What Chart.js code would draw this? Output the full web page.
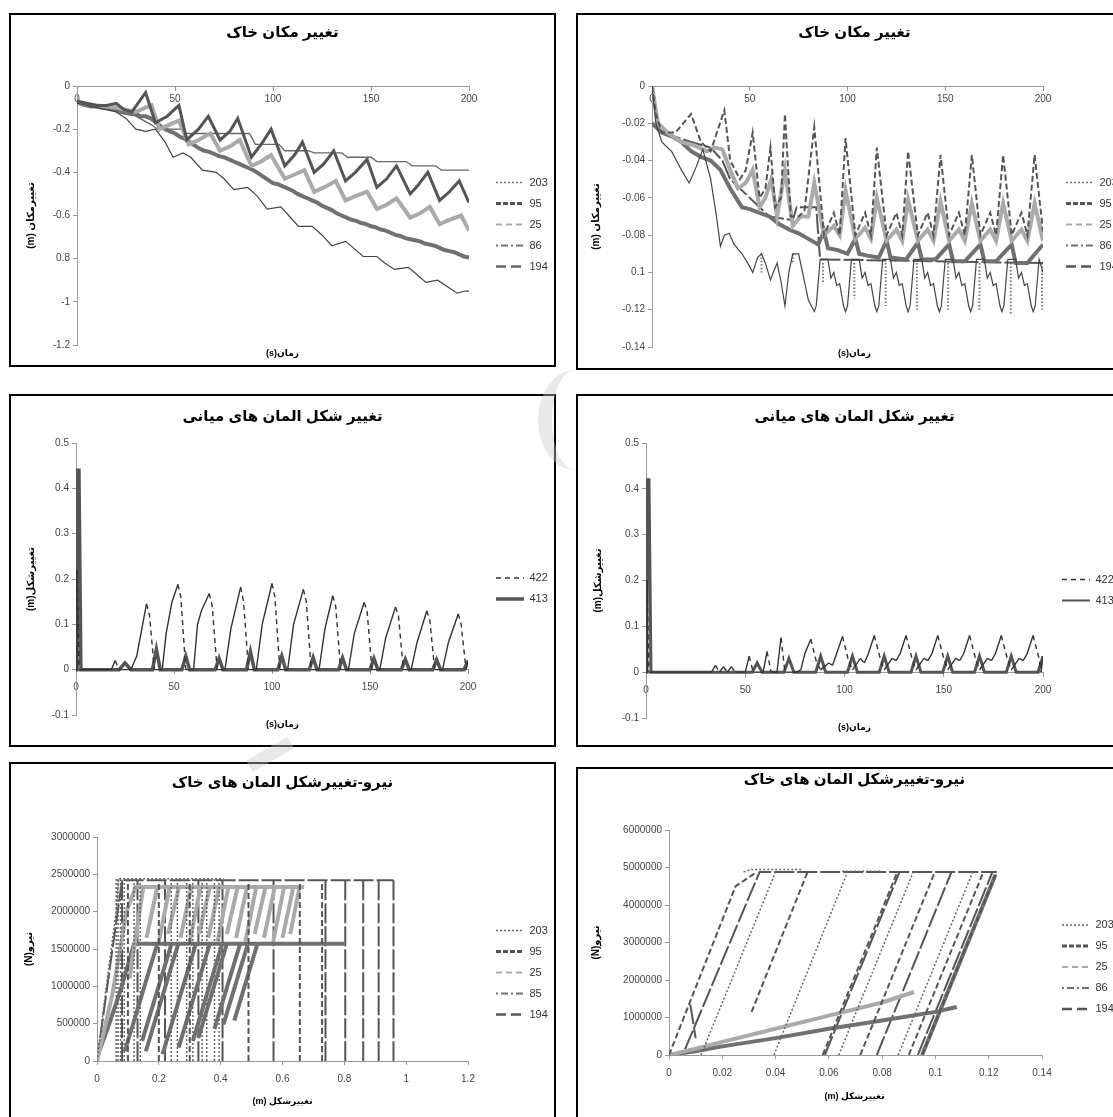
<!DOCTYPE html>
<html>
<head>
<meta charset="utf-8">
<script src="https://cdn.jsdelivr.net/npm/chart.js@4.4.1/dist/chart.umd.min.js"></script>
<style>
  body { margin: 0; background: #fff; width: 1113px; height: 1117px; overflow: hidden; position: relative; }
  .panel { position: absolute; border: 2px solid #000; background: #fff; }
  .panel canvas { display: block; }
  .wm { position: absolute; pointer-events: none; z-index: 5; }
</style>
</head>
<body>
<div class="panel" style="left:9px;top:13px;width:543px;height:350px"><canvas id="tl" width="543" height="350"></canvas></div>
<div class="panel" style="left:576px;top:13px;width:553px;height:353px"><canvas id="tr" width="553" height="353"></canvas></div>
<div class="panel" style="left:9px;top:394px;width:543px;height:349px"><canvas id="ml" width="543" height="349"></canvas></div>
<div class="panel" style="left:576px;top:394px;width:553px;height:349px"><canvas id="mr" width="553" height="349"></canvas></div>
<div class="panel" style="left:9px;top:762px;width:543px;height:361px"><canvas id="bl" width="543" height="361"></canvas></div>
<div class="panel" style="left:576px;top:767px;width:553px;height:356px"><canvas id="br" width="553" height="356"></canvas></div>
<!-- faint watermark pieces that show between the panels -->
<div class="wm" style="left:538px;top:370px;width:60px;height:100px;border-left:14px solid rgba(200,200,200,0.4);border-radius:50%"></div>
<div class="wm" style="left:246px;top:748px;width:48px;height:13px;background:rgba(200,200,200,0.4);transform:rotate(-30deg)"></div>

<script>
// TICK LABELS
const tlYTicks = ['-1.2', '-1', '0.8', '-0.6', '-0.4', '-0.2', '0'];
const trYTicks = ['-0.14', '-0.12', '0.1', '-0.08', '-0.06', '-0.04', '-0.02', '0'];
const midYTicks = ['-0.1', '0', '0.1', '0.2', '0.3', '0.4', '0.5'];
const timeTicks = ['0', '50', '100', '150', '200'];
const blYTicks = ['0', '500000', '1000000', '1500000', '2000000', '2500000', '3000000'];
const blXTicks = ['0', '0.2', '0.4', '0.6', '0.8', '1', '1.2'];
const brYTicks = ['0', '1000000', '2000000', '3000000', '4000000', '5000000', '6000000'];
const brXTicks = ['0', '0.02', '0.04', '0.06', '0.08', '0.1', '0.12', '0.14'];

// TOP LEFT  (time s, displacement m)
const tl203 = [[0,-0.08],[10,-0.1],[20,-0.12],[25,-0.15],[30,-0.2],[35,-0.21],[40,-0.2],[45,-0.26],[49,-0.33],[54,-0.31],[58,-0.33],[64,-0.39],[71,-0.4],[75,-0.43],[80,-0.48],[87,-0.47],[92,-0.51],[97,-0.57],[104,-0.56],[108,-0.6],[113,-0.65],[120,-0.65],[125,-0.69],[130,-0.74],[137,-0.72],[141,-0.75],[146,-0.79],[153,-0.79],[157,-0.82],[162,-0.85],[169,-0.84],[173,-0.87],[178,-0.91],[184,-0.9],[189,-0.93],[194,-0.96],[198,-0.95],[200,-0.95]];
const tl95 = [[0,-0.07],[5,-0.08],[10,-0.09],[15,-0.09],[20,-0.08],[24,-0.11],[28,-0.12],[35,-0.03],[40,-0.17],[46,-0.14],[52,-0.09],[56,-0.25],[62,-0.2],[67,-0.14],[73,-0.25],[78,-0.21],[82,-0.15],[89,-0.33],[94,-0.27],[99,-0.2],[106,-0.37],[111,-0.32],[115,-0.26],[121,-0.4],[126,-0.36],[131,-0.3],[137,-0.44],[142,-0.4],[148,-0.34],[153,-0.47],[158,-0.43],[163,-0.37],[170,-0.5],[174,-0.46],[179,-0.4],[185,-0.53],[190,-0.49],[195,-0.44],[200,-0.54]];
const tl25 = [[0,-0.08],[10,-0.09],[20,-0.1],[30,-0.12],[35,-0.1],[38,-0.09],[42,-0.2],[47,-0.18],[52,-0.16],[57,-0.27],[62,-0.25],[68,-0.22],[73,-0.3],[78,-0.28],[83,-0.25],[89,-0.37],[94,-0.35],[99,-0.32],[106,-0.43],[111,-0.41],[116,-0.39],[121,-0.49],[126,-0.47],[132,-0.44],[137,-0.53],[142,-0.51],[148,-0.49],[153,-0.57],[158,-0.55],[163,-0.52],[170,-0.61],[175,-0.59],[180,-0.56],[185,-0.64],[190,-0.62],[196,-0.6],[200,-0.67]];
const tl86 = [[0,-0.07],[2.5,-0.085],[5,-0.09],[7.5,-0.095],[10,-0.095],[12.5,-0.1],[15,-0.1],[17.5,-0.105],[20,-0.11],[22.5,-0.12],[25,-0.125],[27.5,-0.13],[30,-0.13],[32.5,-0.14],[35,-0.14],[37.5,-0.15],[40,-0.165],[42.5,-0.185],[45,-0.2],[47.5,-0.21],[50,-0.22],[52.5,-0.235],[55,-0.245],[57.5,-0.26],[60,-0.275],[62.5,-0.29],[65,-0.3],[67.5,-0.305],[70,-0.315],[72.5,-0.325],[75,-0.33],[77.5,-0.34],[80,-0.35],[82.5,-0.36],[85,-0.37],[87.5,-0.38],[90,-0.39],[92.5,-0.405],[95,-0.42],[97.5,-0.435],[100,-0.45],[102.5,-0.455],[105,-0.465],[107.5,-0.475],[110,-0.485],[112.5,-0.5],[115,-0.51],[117.5,-0.52],[120,-0.53],[122.5,-0.54],[125,-0.555],[127.5,-0.565],[130,-0.575],[132.5,-0.59],[135,-0.6],[137.5,-0.61],[140,-0.62],[142.5,-0.625],[145,-0.635],[147.5,-0.64],[150,-0.65],[152.5,-0.655],[155,-0.665],[157.5,-0.67],[160,-0.68],[162.5,-0.69],[165,-0.695],[167.5,-0.705],[170,-0.71],[172.5,-0.715],[175,-0.72],[177.5,-0.73],[180,-0.735],[182.5,-0.74],[185,-0.75],[187.5,-0.76],[190,-0.765],[192.5,-0.77],[195,-0.78],[197.5,-0.79],[200,-0.795]];
const tl194 = [[0,-0.08],[10,-0.09],[20,-0.11],[30,-0.14],[38,-0.18],[41,-0.2],[53,-0.2],[56,-0.22],[88,-0.22],[91,-0.27],[103,-0.27],[106,-0.3],[118,-0.3],[121,-0.31],[135,-0.31],[138,-0.33],[150,-0.33],[153,-0.35],[168,-0.35],[171,-0.37],[183,-0.37],[186,-0.39],[200,-0.39]];

// TOP RIGHT
const tr203 = [[0,0],[2,-0.02],[5,-0.03],[10,-0.035],[15,-0.045],[19,-0.052],[22,-0.045],[26,-0.034],[30,-0.05],[33,-0.07],[35,-0.086],[37,-0.08],[39.5,-0.079],[42,-0.085],[46,-0.09],[49,-0.095],[51.5,-0.1],[54,-0.092],[56,-0.09],[58,-0.095],[60.6,-0.104],[62,-0.1],[64,-0.095],[66,-0.105],[68,-0.118],[70,-0.1],[72,-0.09],[75,-0.09],[77,-0.1],[80,-0.115],
  [83,-0.121],[84,-0.118],[86,-0.093],[90,-0.093],[91.5,-0.103],[93,-0.1],[94.5,-0.107],[96,-0.106],[98,-0.118],
  [99,-0.121],[100,-0.118],[102,-0.093],[106,-0.093],[107.5,-0.103],[109,-0.1],[110.5,-0.107],[112,-0.106],[114,-0.118],
  [115,-0.121],[116,-0.118],[118,-0.093],[122,-0.093],[123.5,-0.103],[125,-0.1],[126.5,-0.107],[128,-0.106],[130,-0.118],
  [131,-0.121],[132,-0.118],[134,-0.093],[138,-0.093],[139.5,-0.103],[141,-0.1],[142.5,-0.107],[144,-0.106],[146,-0.118],
  [147,-0.121],[148,-0.118],[150,-0.093],[154,-0.093],[155.5,-0.103],[157,-0.1],[158.5,-0.107],[160,-0.106],[162,-0.118],
  [163,-0.121],[164,-0.118],[166,-0.093],[170,-0.093],[171.5,-0.103],[173,-0.1],[174.5,-0.107],[176,-0.106],[178,-0.118],
  [179,-0.121],[180,-0.118],[182,-0.093],[186,-0.093],[187.5,-0.103],[189,-0.1],[190.5,-0.107],[192,-0.106],[194,-0.118],
  [195,-0.121],[196,-0.118],[198,-0.093],[200,-0.1]];
const tr203dots = [[56,-0.09],[56,-0.1],null,[72,-0.09],[72,-0.095],null,[87.5,-0.095],[87.5,-0.106],null,[103.5,-0.095],[103.5,-0.114],null,[119.5,-0.095],[119.5,-0.118],null,[135.5,-0.095],[135.5,-0.12],null,[151.5,-0.095],[151.5,-0.12],null,[167.5,-0.095],[167.5,-0.12],null,[183.5,-0.095],[183.5,-0.122],null,[199.5,-0.095],[199.5,-0.12]];
const tr95 = [[0,0],[2,-0.015],[5,-0.025],[12,-0.025],[20,-0.015],[25,-0.03],[30,-0.035],[37,-0.013],[40,-0.04],[45,-0.05],[48,-0.045],[51.5,-0.025],[55,-0.06],[58,-0.055],[60.6,-0.033],[63,-0.065],[66,-0.06],[68,-0.015],[71,-0.07],[75,-0.07],[78,-0.067],[83,-0.022],[88,-0.08],[93,-0.068],[96,-0.08],[99,-0.028],[104,-0.08],[109,-0.068],[112,-0.08],[115,-0.033],[120,-0.08],[125,-0.068],[128,-0.08],[131,-0.035],[136,-0.08],[141,-0.068],[144,-0.08],[147.6,-0.037],[152,-0.08],[157,-0.068],[160,-0.08],[163.6,-0.037],[168,-0.08],[173,-0.068],[176,-0.08],[179.6,-0.037],[184,-0.08],[189,-0.068],[192,-0.08],[195.7,-0.037],[200,-0.078]];
const tr25 = [[0,0],[3,-0.02],[8,-0.025],[15,-0.03],[22,-0.032],[28,-0.035],[32,-0.033],[36,-0.034],[40,-0.045],[44,-0.055],[48,-0.052],[51.5,-0.045],[55,-0.065],[58,-0.06],[61,-0.05],[64,-0.07],[68,-0.045],[72,-0.075],[76,-0.07],[80,-0.07],[83,-0.052],[88,-0.08],[93,-0.075],[96,-0.08],[99,-0.056],[104,-0.082],[109,-0.076],[112,-0.082],[115,-0.06],[120,-0.083],[125,-0.077],[128,-0.083],[131,-0.061],[136,-0.083],[141,-0.077],[144,-0.083],[147.6,-0.062],[152,-0.083],[157,-0.077],[160,-0.083],[163.6,-0.063],[168,-0.083],[173,-0.077],[176,-0.083],[179.6,-0.063],[184,-0.083],[189,-0.077],[192,-0.083],[195.7,-0.063],[200,-0.083]];
const tr86 = [[0,-0.02],[5,-0.025],[10,-0.027],[15,-0.03],[20,-0.035],[25,-0.038],[30,-0.04],[35,-0.045],[40,-0.055],[43,-0.06],[46,-0.065],[50,-0.066],[55,-0.068],[60,-0.07],[65,-0.074],[70,-0.077],[75,-0.079],[80,-0.082],[85,-0.085],[88,-0.078],[90,-0.087],[95,-0.088],[100,-0.09],[104,-0.082],[106,-0.09],[110,-0.091],[116,-0.092],[120,-0.083],[122,-0.092],[130,-0.093],[136,-0.084],[138,-0.093],[145,-0.093],[152,-0.085],[154,-0.094],[160,-0.094],[168,-0.085],[170,-0.094],[176,-0.094],[184,-0.085],[186,-0.095],[192,-0.095],[200,-0.085]];
const tr194 = [[0,0],[3,-0.02],[8,-0.026],[20,-0.03],[30,-0.033],[36,-0.04],[40,-0.05],[50,-0.06],[60,-0.07],[72,-0.072],[74,-0.065],[84,-0.065],[86,-0.093],[200,-0.095]];

// MIDDLE LEFT
const ml422 = [[0,0],[0.5,0.22],[1.5,0],[18,0],[20,0.02],[22,0],[28,0],[31,0.03],[34,0.1],[36,0.145],[37.5,0.12],[40,0],[44,0],[46,0.08],[49,0.15],[52,0.188],[53.5,0.16],[56,0],[60,0],[62,0.1],[64,0.13],[68,0.168],[69.5,0.14],[72,0],[76,0],[79,0.09],[84,0.182],[85.5,0.15],[88,0],[92,0],[95,0.1],[100,0.19],[101.5,0.16],[104,0],[108,0],[111,0.1],[116,0.177],[117.5,0.15],[120,0],[124,0],[127,0.09],[131,0.163],[132.5,0.14],[135,0],[139,0],[142,0.08],[147,0.148],[148.5,0.13],[151,0],[155,0],[158,0.07],[163,0.138],[164.5,0.12],[167,0],[171,0],[174,0.06],[179,0.13],[180.5,0.11],[183,0],[187,0],[190,0.06],[195,0.123],[196.5,0.1],[199,0],[200,0.02]];
const ml413 = [[0,0],[0.5,0.44],[1.5,0.44],[2.5,0],[22,0],[25,0.015],[28,0],[39,0],[41,0.045],[43,0],[54,0],[56,0.03],[58,0],[71,0],[73,0.025],[75,0],[87,0],[89,0.04],[91,0],[103,0],[105,0.03],[107,0],[119,0],[121,0.027],[123,0],[134,0],[136,0.026],[138,0],[150,0],[152,0.025],[154,0],[166,0],[168,0.023],[170,0],[182,0],[184,0.022],[186,0],[198,0],[200,0.02]];

// MIDDLE RIGHT
const mr422 = [[0,0],[0.5,0.2],[1.5,0],[33,0],[35,0.015],[37,0],[39,0.012],[41,0],[43,0.012],[45,0],[50,0],[52,0.035],[54,0],[59,0],[61,0.045],[63,0],[66,0],[68,0.075],[70,0],[76,0],[78,0.005],[80,0.04],[83,0.072],[86,0.02],[88,0.005],[92,0.02],[94,0.015],[96,0.04],[99,0.078],[102,0.025],[104,0.005],[108,0.03],[110,0.02],[112,0.04],[115,0.08],[118,0.03],[120,0.005],[124,0.03],[126,0.025],[128,0.04],[131,0.08],[134,0.03],[136,0.005],[140,0.03],[142,0.025],[144,0.04],[147,0.08],[150,0.03],[152,0.005],[156,0.03],[158,0.025],[160,0.04],[163,0.08],[166,0.03],[168,0.005],[172,0.03],[174,0.025],[176,0.04],[179,0.08],[182,0.03],[184,0.005],[188,0.03],[190,0.025],[192,0.04],[195,0.08],[198,0.03],[199,0],[200,0.035]];
const mr413 = [[0,0],[0.5,0.42],[1.5,0.42],[2.5,0],[53.5,0],[56,0.02],[58.5,0],[69.5,0],[72,0.03],[74.5,0],[85.5,0],[88,0.035],[90.5,0],[101.5,0],[104,0.035],[106.5,0],[117.5,0],[120,0.035],[122.5,0],[133.5,0],[136,0.035],[138.5,0],[149.5,0],[152,0.035],[154.5,0],[165.5,0],[168,0.035],[170.5,0],[181.5,0],[184,0.035],[186.5,0],[197.5,0],[200,0.035]];

// BOTTOM LEFT (deformation m, force N), null = break in the line
const bl203 = [[0,0],[0.03,1000000],[0.062,2000000],[0.07,2440000],[0.41,2440000],null,[0.062,0],[0.062,2440000],null,[0.068,0],[0.068,2440000],null,[0.076,0],[0.076,2440000],null,[0.088,0],[0.088,2440000],null,[0.12,0],[0.12,2440000],null,[0.14,0],[0.14,2440000],null,[0.24,0],[0.24,2440000],null,[0.26,0],[0.26,2440000],null,[0.29,0],[0.29,2440000],null,[0.31,0],[0.31,2440000],null,[0.34,0],[0.34,2440000],null,[0.355,0],[0.355,2440000],null,[0.38,0],[0.38,2440000],null,[0.395,0],[0.395,2440000]];
const bl95 = [[0.1,0],[0.1,2420000],null,[0.2,0],[0.2,2420000],null,[0.3,0],[0.3,2420000],null,[0.49,0],[0.49,2420000],null,[0.656,0],[0.656,2420000],null,[0.728,0],[0.728,2420000]];
const bl25 = [[0,0],[0.02,350000],[0.05,900000],[0.075,1500000],[0.095,2000000],[0.125,2330000],[0.67,2330000],null,[0.105,1100000],[0.13,1800000],[0.15,2330000],null,[0.16,1650000],[0.195,2330000],null,[0.2,1600000],[0.235,2330000],null,[0.23,1700000],[0.265,2330000],null,[0.27,1650000],[0.305,2330000],null,[0.3,1600000],[0.335,2330000],null,[0.33,1700000],[0.365,2330000],null,[0.36,1650000],[0.395,2330000],null,[0.39,1600000],[0.425,2330000],null,[0.42,1700000],[0.455,2330000],null,[0.45,1650000],[0.485,2330000],null,[0.48,1600000],[0.515,2330000],null,[0.51,1700000],[0.545,2330000],null,[0.54,1650000],[0.575,2330000],null,[0.57,1600000],[0.605,2330000],null,[0.6,1650000],[0.635,2330000],null,[0.625,1700000],[0.655,2330000]];
const bl86 = [[0,50000],[0.04,500000],[0.08,1000000],[0.12,1570000],[0.8,1570000],null,[0.09,130000],[0.195,1570000],null,[0.146,270000],[0.241,1570000],null,[0.158,130000],[0.263,1570000],null,[0.212,90000],[0.32,1570000],null,[0.264,180000],[0.365,1570000],null,[0.31,270000],[0.405,1570000],null,[0.328,310000],[0.42,1570000],null,[0.38,430000],[0.463,1570000],null,[0.409,490000],[0.488,1570000],null,[0.444,540000],[0.519,1570000]];
const bl194 = [[0,0],[0.04,1200000],[0.081,2420000],[0.959,2420000],null,[0.081,2420000],[0.081,0],null,[0.131,2420000],[0.131,0],null,[0.22,2420000],[0.22,0],null,[0.328,2420000],[0.328,0],null,[0.406,2420000],[0.406,0],null,[0.571,2420000],[0.571,0],null,[0.739,2420000],[0.739,0],null,[0.803,2420000],[0.803,0],null,[0.861,2420000],[0.861,0],null,[0.911,2420000],[0.911,0],null,[0.959,2420000],[0.959,0]];

// BOTTOM RIGHT
const br203 = [[0.012,0],[0.04,4880000],null,[0.0394,0],[0.067,4880000],null,[0.0637,0],[0.0917,4880000],null,[0.086,0],[0.114,4880000],null,[0.028,4880000],[0.031,4950000],[0.05,4950000],null,[0.065,4900000],[0.08,4900000]];
const br95 = [[0,0],[0.025,4500000],[0.033,4880000],null,[0.031,1150000],[0.052,4880000],null,[0.0577,0],[0.0857,4880000],null,[0.0718,0],[0.0998,4880000],null,[0.09,0],[0.118,4880000],null,[0.095,0],[0.123,4880000]];
const br25 = [[0,0],[0.01,170000],[0.02,350000],[0.04,700000],[0.06,1050000],[0.08,1400000],[0.092,1680000]];
const br86 = [[0,0],[0.01,100000],[0.02,230000],[0.04,450000],[0.06,700000],[0.08,920000],[0.1,1150000],[0.108,1280000],null,[0.095,0],[0.1225,4800000]];
const br194 = [[0.006,150000],[0.034,4880000],[0.123,4880000],null,[0.0585,0],[0.0865,4880000],null,[0.078,0],[0.106,4880000],null,[0.0934,0],[0.1214,4880000],null,[0.008,1350000],[0.01,450000]];

const FONT = "'Liberation Sans', 'DejaVu Sans', sans-serif";

// line looks: chart line + what the legend shows
const look = {
  s203: {color: '#444', width: 1.2, dash: [], legendDash: [2, 2], legendColor: '#777', legendWidth: 1.5},
  s95: {color: '#555', width: 3, dash: [], legendDash: [5, 2], legendWidth: 3},
  s25: {color: '#aaa', width: 4, dash: [], legendDash: [6, 4], legendWidth: 2},
  s86: {color: '#707070', width: 4, dash: [], legendDash: [2, 3, 7, 3], legendWidth: 2},
  s194: {color: '#666', width: 1.3, dash: [], legendDash: [10, 5], legendWidth: 2.5},
  dots: {color: '#777', width: 2, dash: [1.5, 2]},
  d203: {color: '#666', width: 1.5, dash: [2, 2], legendDash: [2, 2]},
  d95: {color: '#555', width: 2, dash: [6, 3], legendDash: [5, 2], legendWidth: 3},
  d194: {color: '#555', width: 2, dash: [20, 3], legendDash: [10, 5], legendWidth: 2.5},
  m422: {color: '#333', width: 1.4, dash: [], dashDown: [5, 4], legendDash: [5, 4]},
  m413: {color: '#555', width: 3.5, dash: []},
  m413r: {color: '#555', width: 3, dash: [], legendWidth: 2}
};

function lineSet(label, pts, st) {
  const set = {
    label: label,
    data: pts.map((p, i) => p ? {x: p[0], y: p[1]} : {x: pts[i - 1][0], y: null}),
    borderColor: st.color,
    borderWidth: st.width,
    borderDash: st.dash,
    legendDash: st.legendDash || st.dash,
    legendColor: st.legendColor || st.color,
    legendWidth: st.legendWidth || st.width,
    pointRadius: 0,
    tension: 0,
    fill: false,
    spanGaps: false
  };
  // falling parts drawn dashed, rising parts solid
  if (st.dashDown) {
    set.segment = {borderDash: (ctx) => ctx.p1.parsed.y < ctx.p0.parsed.y ? st.dashDown : undefined};
  }
  return set;
}

// puts the legend where the original one sits
const placeLegend = {
  id: 'placeLegend',
  beforeLayout(chart, args, o) {
    const lg = chart.legend;
    if (lg && !lg.fitOrig) {
      lg.fitOrig = lg.fit;
      lg.fit = function () { this.fitOrig(); this.width = o.w; };
    }
  },
  afterLayout(chart, args, o) {
    const lg = chart.legend;
    const dx = o.x - lg.options.labels.padding - lg.left;
    const dy = o.cy - (lg.top + lg.bottom) / 2;
    lg.left += dx; lg.right += dx; lg.top += dy; lg.bottom += dy;
  }
};

function axisLabels(list, min, step) {
  return (v) => list[Math.round((v - min) / step)];
}

function makeChart(id, c) {
  const xAxis = {
    type: 'linear', min: c.xMin, max: c.xMax,
    position: c.xAtZero ? {y: 0} : 'bottom',
    ticks: {stepSize: c.xStep, autoSkip: false, maxRotation: 0, color: '#444', font: {family: FONT, size: 10}, padding: c.xPad,
      callback: axisLabels(c.xTicks, c.xMin, c.xStep)},
    grid: {drawOnChartArea: false, tickLength: 4, color: '#999'},
    border: {color: '#999'}
  };
  if (!c.xAtZero) xAxis.afterFit = (s) => { s.height = 28; };
  return new Chart(document.getElementById(id), {
    type: 'line',
    data: {datasets: c.datasets},
    options: {
      responsive: false,
      animation: false,
      layout: {padding: 0},
      plugins: {
        title: {display: true, text: c.title, color: '#000', font: {family: FONT, size: 15, weight: 'bold'}, padding: {top: c.titleTop, bottom: c.titleBottom}},
        subtitle: {display: true, position: 'bottom', text: c.xTitle, color: '#000', font: {family: FONT, size: 9, weight: 'bold'}, padding: {top: c.xtTop, bottom: c.xtBottom}},
        legend: {
          position: 'right',
          labels: {
            usePointStyle: true, pointStyleWidth: 28, padding: 10, color: '#333',
            font: {family: FONT, size: 11},
            generateLabels: (chart) => chart.data.datasets
              .map((d, i) => ({
                text: d.label, datasetIndex: i, hidden: false, pointStyle: 'line',
                strokeStyle: d.legendColor, fillStyle: d.legendColor, lineWidth: d.legendWidth, lineDash: d.legendDash, fontColor: '#333'
              }))
              .filter((item) => item.text)
          }
        },
        tooltip: {enabled: false},
        placeLegend: c.legend
      },
      scales: {
        x: xAxis,
        y: {
          type: 'linear', min: c.yMin, max: c.yMax,
          afterFit: (s) => { s.width = c.yWidth; },
          ticks: {stepSize: c.yStep, autoSkip: false, color: '#444', font: {family: FONT, size: 10}, padding: 3,
            callback: axisLabels(c.yTicks, c.yMin, c.yStep)},
          grid: {drawOnChartArea: false, tickLength: 4, color: '#999'},
          border: {color: '#999'},
          title: {display: true, text: c.yTitle, color: '#000', font: {family: FONT, size: 10, weight: 'bold'}, padding: {top: c.ytPad, bottom: 0}}
        }
      }
    },
    plugins: [placeLegend]
  });
}

const soilTitle = 'تغییر مکان خاک';
const midTitle = 'تغییر شکل المان های میانی';
const forceTitle = 'نیرو-تغییرشکل المان های خاک';
const timeTitle = '(s)زمان';

makeChart('tl', {
  title: soilTitle, titleTop: 9, titleBottom: 44, xTitle: timeTitle, xtTop: 3.6, xtBottom: 5.6,
  xMin: 0, xMax: 200, xStep: 50, xTicks: timeTicks, xAtZero: true, xPad: 3,
  yMin: -1.2, yMax: 0, yStep: 0.2, yTicks: tlYTicks, yWidth: 66, yTitle: '(m) تغییرمکان', ytPad: 14,
  legend: {w: 85, x: 485, cy: 209.5},
  datasets: [lineSet('203', tl203, look.s203), lineSet('95', tl95, look.s95), lineSet('25', tl25, look.s25),
             lineSet('86', tl86, look.s86), lineSet('194', tl194, look.s194)]
});

makeChart('tr', {
  title: soilTitle, titleTop: 9, titleBottom: 44, xTitle: timeTitle, xtTop: 1.6, xtBottom: 8.6,
  xMin: 0, xMax: 200, xStep: 50, xTicks: timeTicks, xAtZero: true, xPad: 3,
  yMin: -0.14, yMax: 0, yStep: 0.02, yTicks: trYTicks, yWidth: 74, yTitle: '(m) تغییرمکان', ytPad: 12,
  legend: {w: 88, x: 488, cy: 209.5},
  datasets: [lineSet('203', tr203, look.s203), lineSet('95', tr95, look.d95), lineSet('25', tr25, look.s25),
             lineSet('86', tr86, look.s86), lineSet('194', tr194, look.d194), lineSet('', tr203dots, look.dots)]
});

makeChart('ml', {
  title: midTitle, titleTop: 12, titleBottom: 17, xTitle: timeTitle, xtTop: 4.6, xtBottom: 14.6,
  xMin: 0, xMax: 200, xStep: 50, xTicks: timeTicks, xAtZero: true, xPad: 8,
  yMin: -0.1, yMax: 0.5, yStep: 0.1, yTicks: midYTicks, yWidth: 65, yTitle: '(m)تغییرشکل', ytPad: 14,
  legend: {w: 86, x: 485, cy: 192.5},
  datasets: [lineSet('422', ml422, look.m422), lineSet('413', ml413, look.m413)]
});

makeChart('mr', {
  title: midTitle, titleTop: 12, titleBottom: 17, xTitle: timeTitle, xtTop: 4.6, xtBottom: 11.6,
  xMin: 0, xMax: 200, xStep: 50, xTicks: timeTicks, xAtZero: true, xPad: 8,
  yMin: -0.1, yMax: 0.5, yStep: 0.1, yTicks: midYTicks, yWidth: 68, yTitle: '(m)تغییرشکل', ytPad: 14,
  legend: {w: 88, x: 484, cy: 194},
  datasets: [lineSet('422', mr422, look.m422), lineSet('413', mr413, look.m413r)]
});

makeChart('bl', {
  title: forceTitle, titleTop: 10, titleBottom: 45, xTitle: '(m) تغییرشکل', xtTop: 7.6, xtBottom: 17.6,
  xMin: 0, xMax: 1.2, xStep: 0.2, xTicks: blXTicks, xAtZero: false, xPad: 8,
  yMin: 0, yMax: 3000000, yStep: 500000, yTicks: blYTicks, yWidth: 86, yTitle: '(N)نیرو', ytPad: 12,
  legend: {w: 86, x: 485, cy: 208.5},
  datasets: [lineSet('203', bl203, look.d203), lineSet('95', bl95, look.d95), lineSet('25', bl25, look.s25),
             lineSet('85', bl86, look.s86), lineSet('194', bl194, look.d194)]
});

makeChart('br', {
  title: forceTitle, titleTop: 2, titleBottom: 41, xTitle: '(m) تغییرشکل', xtTop: 8.6, xtBottom: 22.6,
  xMin: 0, xMax: 0.14, xStep: 0.02, xTicks: brXTicks, xAtZero: false, xPad: 8,
  yMin: 0, yMax: 6000000, yStep: 1000000, yTicks: brYTicks, yWidth: 91, yTitle: '(N)نیرو', ytPad: 12,
  legend: {w: 89, x: 484, cy: 198},
  datasets: [lineSet('203', br203, look.d203), lineSet('95', br95, look.d95), lineSet('25', br25, look.s25),
             lineSet('86', br86, look.s86), lineSet('194', br194, look.d194)]
});
</script>
</body>
</html>
